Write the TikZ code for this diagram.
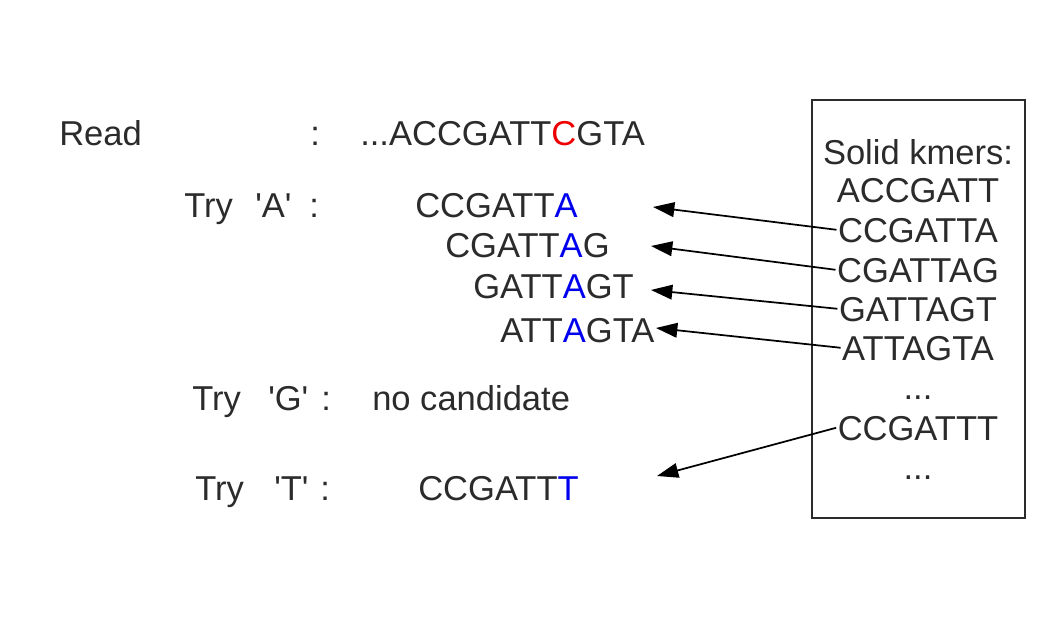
\documentclass[tikz,border=0pt]{standalone}
\usepackage{fontspec}
\setmainfont{Liberation Sans}
\usetikzlibrary{arrows.meta}
\definecolor{txt}{HTML}{2B2B2B}
\definecolor{hlblue}{HTML}{0000EE}
\definecolor{hlred}{HTML}{EE0000}
\newcommand{\sq}{\textquotesingle}
\tikzset{
  lbl/.style={anchor=base west, inner sep=0pt, text=txt, font=\fontsize{25.9}{30}\selectfont},
  kmer/.style={anchor=base, inner sep=0pt, text=txt, font=\fontsize{25.9}{30}\selectfont},
  link/.style={draw=black, line width=1.3pt, -{Triangle[length=16pt,width=11pt]}},
  kbox/.style={draw=txt, line width=1.4pt}
}
\begin{document}
\begin{tikzpicture}[x=0.75pt,y=-0.75pt]
\useasboundingbox (0,0) rectangle (1058,620);
% left column
\node[lbl] (read) at (59,146) {Read};
\node[lbl] (readcol) at (310,146) {:};
\node[lbl] (readseq) at (360,146) {...ACCGATT\textcolor{hlred}{C}GTA};
\node[lbl] (tryA) at (184,218) {Try};
\node[lbl] (tryAl) at (255,218) {\sq A\sq};
\node[lbl] (tryAc) at (309,218) {:};
\node[lbl] (a1) at (415,218) {CCGATT\textcolor{hlblue}{A}};
\node[lbl] (a2) at (445,258) {CGATT\textcolor{hlblue}{A}G};
\node[lbl] (a3) at (473,299) {GATT\textcolor{hlblue}{A}GT};
\node[lbl] (a4) at (500,343) {ATT\textcolor{hlblue}{A}GTA};
\node[lbl] (tryG) at (192,411) {Try};
\node[lbl] (tryGl) at (268,411) {\sq G\sq};
\node[lbl] (tryGc) at (321,411) {:};
\node[lbl] (nocand) at (372,411) {no candidate};
\node[lbl] (tryT) at (195,501) {Try};
\node[lbl] (tryTl) at (274,501) {\sq T\sq};
\node[lbl] (tryTc) at (320,501) {:};
\node[lbl] (t1) at (418,501) {CCGATT\textcolor{hlblue}{T}};
% box
\draw[kbox] (812,100) rectangle (1025,518);
\node[kmer] (solid) at (918,165) {Solid kmers:};
\node[kmer] (k1) at (918,203) {ACCGATT};
\node[kmer] (k2) at (918,243) {CCGATTA};
\node[kmer] (k3) at (918,283) {CGATTAG};
\node[kmer] (k4) at (918,322) {GATTAGT};
\node[kmer] (k5) at (918,361) {ATTAGTA};
\node[kmer] (d1) at (918,400) {...};
\node[kmer] (k6) at (918,441) {CCGATTT};
\node[kmer] (d2) at (918,480) {...};
% arrow tips
\coordinate (e1) at (653,207);
\coordinate (e2) at (651,246);
\coordinate (e3) at (651,290);
\coordinate (e4) at (656,328);
\coordinate (e5) at (657,476);
\draw[link] ([xshift=-1pt,yshift=1pt]k2.west) -- (e1);
\draw[link] ([xshift=-1pt,yshift=1pt]k3.west) -- (e2);
\draw[link] ([xshift=-1pt,yshift=1pt]k4.west) -- (e3);
\draw[link] ([xshift=-1pt,yshift=1pt]k5.west) -- (e4);
\draw[link] ([xshift=-1pt,yshift=1pt]k6.west) -- (e5);
\end{tikzpicture}
\end{document}
